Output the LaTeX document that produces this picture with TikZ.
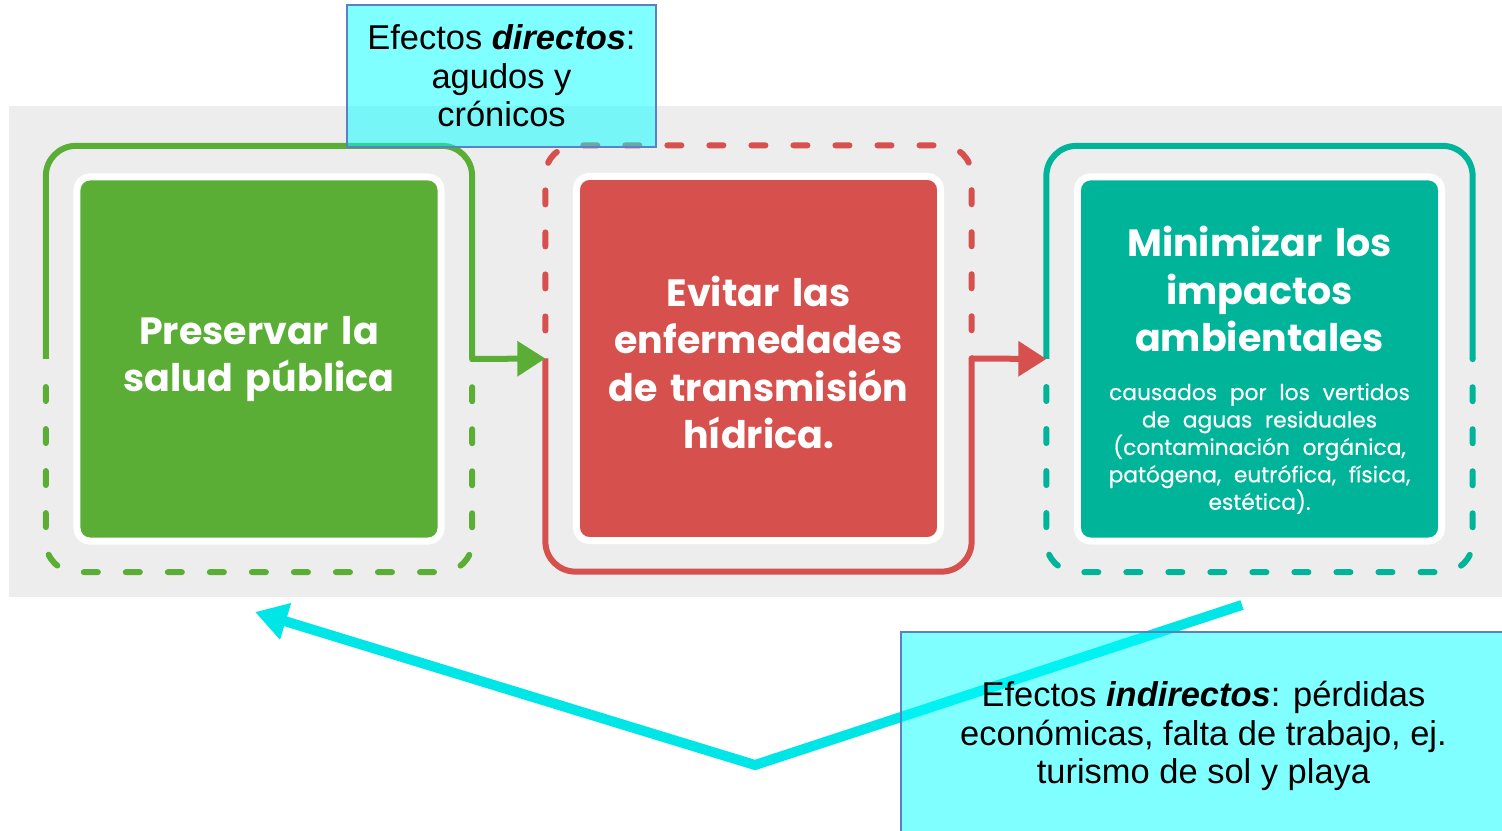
\documentclass[tikz,border=0pt]{standalone}
\usepackage{fontspec}
\setmainfont{Liberation Sans}
\newfontfamily\goalfont{Poppins}
\newfontfamily\goalsubfont{Poppins}[WordSpace=0.75, FakeBold=0.4]
\usetikzlibrary{arrows.meta, positioning, calc}
\definecolor{panelgray}{HTML}{EDEDED}
\definecolor{saludgreen}{HTML}{5AAE35}
\definecolor{hidricared}{HTML}{D6504E}
\definecolor{ambienteteal}{HTML}{00B49A}
\definecolor{notecyan}{HTML}{00FFFF}
\definecolor{noteedge}{HTML}{5B80C4}
\definecolor{effectcyan}{HTML}{00E6E6}

\tikzset{
  goalbox/.style={draw=white, line width=0.07cm, rounded corners=0.13cm, minimum width=3.64cm, minimum height=3.64cm, inner sep=0pt, text width=3.5cm, align=center, text=white, font=\goalfont\bfseries\fontsize{10.8}{13.5}\selectfont},
  ring/.style={minimum width=4.26cm, minimum height=4.26cm, inner sep=0pt, outer sep=0pt},
  ringsolid/.style={line width=0.06cm, rounded corners=0.3cm},
  ringdashed/.style={ringsolid, line cap=round, dash pattern=on 0.14cm off 0.28cm, dash phase=0.14cm},
  goalarrow/.style={line width=0.06cm, -{Triangle[length=0.28cm, width=0.34cm]}},
  effectnote/.style={draw=noteedge, line width=0.4pt, fill=notecyan, fill opacity=0.5, text opacity=1, inner sep=0pt, align=center, font=\fontsize{9.8}{10.9}\selectfont},
  effectarrow/.style={effectcyan, line width=0.1cm, line join=round, -{Triangle[length=0.32cm, width=0.36cm]}}
}

\begin{document}
\begin{tikzpicture}[x=0.01cm, y=-0.01cm]
  \useasboundingbox (0,0) rectangle (1502,831);

  % Gray panel
  \fill[panelgray] (9,106) rectangle (1502,597);

  % Outer rings
  \node[ring] (saludring) at (259,359) {};
  \node[ring] (hidricaring) at (758.5,358.5) {};
  \node[ring] (ambientering) at (1259.5,359) {};

  \draw[ringsolid, saludgreen] (saludring.west) -- (saludring.north west) -- (saludring.north east) -- (saludring.east);
  \draw[ringdashed, saludgreen] (saludring.west) -- (saludring.south west) -- (saludring.south east) -- (saludring.east);

  \draw[ringdashed, hidricared] (hidricaring.west) -- (hidricaring.north west) -- (hidricaring.north east) -- (hidricaring.east);
  \draw[ringsolid, hidricared] (hidricaring.west) -- (hidricaring.south west) -- (hidricaring.south east) -- (hidricaring.east);

  \draw[ringsolid, ambienteteal] (ambientering.west) -- (ambientering.north west) -- (ambientering.north east) -- (ambientering.east);
  \draw[ringdashed, ambienteteal] (ambientering.west) -- (ambientering.south west) -- (ambientering.south east) -- (ambientering.east);

  % Goal boxes
  \node[goalbox, fill=saludgreen] (salud) at (saludring) {Preservar la\\salud pública};
  \node[goalbox, fill=hidricared] (hidrica) at (hidricaring) {Evitar las\\enfermedades\\de transmisión\\hídrica.\par\vspace{-0.08cm}};
  \node[goalbox, fill=ambienteteal] (ambiente) at (ambientering) {Minimizar los\\impactos\\ambientales\par\vspace{6pt}{\goalsubfont\mdseries\fontsize{6.2}{7.8}\selectfont causados por los vertidos\\de aguas residuales\\(contaminación orgánica,\\patógena, eutrófica, física,\\estética).\par}\vspace{-0.22cm}};

  % Arrows between rings
  \draw[goalarrow, saludgreen] (saludring.east) -- (hidricaring.west);
  \draw[goalarrow, hidricared] (hidricaring.east) -- (ambientering.west);

  % Indirect effects arrow
  \coordinate (effectstart) at (1242,605);
  \coordinate (effectbend) at (755,765);
  \coordinate (effectend) at (255,612);
  \draw[effectarrow] (effectstart) -- (effectbend) -- (effectend);

  % Notes
  \node[effectnote, minimum width=3.09cm, minimum height=1.42cm] (directos) at (501.5,76) {Efectos \textbf{\textit{directos}}:\\agudos y\\crónicos};
  \node[effectnote, minimum width=6.05cm, minimum height=2.08cm] (indirectos) at (1203.5,736) {Efectos \textbf{\textit{indirectos}}: pérdidas\\económicas, falta de trabajo, ej.\\turismo de sol y playa};
\end{tikzpicture}
\end{document}
